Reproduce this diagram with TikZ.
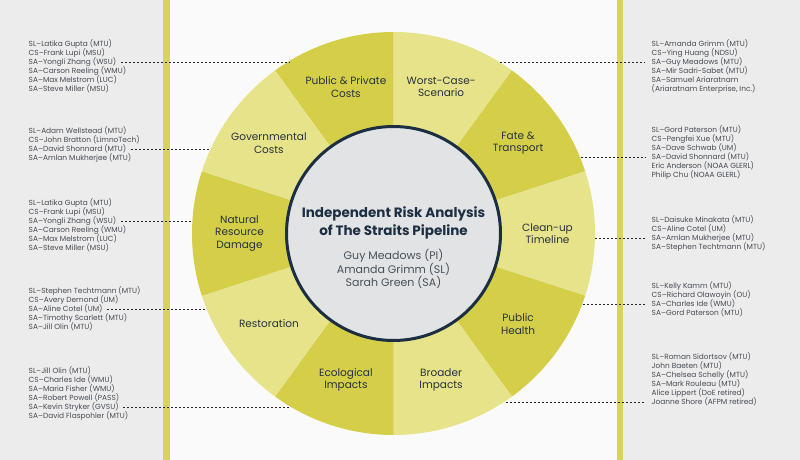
\documentclass[tikz,border=0pt]{standalone}
\usepackage{fontspec}
\setmainfont{Poppins}
\usetikzlibrary{positioning}
\definecolor{segdark}{HTML}{D4CE48}
\definecolor{seglight}{HTML}{E7E38A}
\definecolor{barcol}{HTML}{D8D35A}
\definecolor{panel}{HTML}{ECECEC}
\definecolor{hubfill}{HTML}{E2E3E5}
\definecolor{hubline}{HTML}{1C2F42}
\definecolor{ink}{HTML}{27323C}
\definecolor{listink}{HTML}{464B51}

\begin{document}
\begin{tikzpicture}[x=1pt,y=1pt, member/.style={anchor=west,inner sep=1.5pt,text=listink,font=\fontsize{7.4}{8.5}\selectfont}, topic/.style={align=center,text=ink,font=\fontsize{10.5}{12.5}\selectfont}, link/.style={draw=black!85,line width=0.9pt,dash pattern=on 2pt off 2pt}]
\useasboundingbox (0,0) rectangle (800,460);
% panels and bars
\fill[white!98!black] (0,0) rectangle (800,460);
\fill[panel] (0,0) rectangle (163,460);
\fill[panel] (623,0) rectangle (800,460);
\fill[barcol] (163,0) rectangle (170,460);
\fill[barcol] (617,0) rectangle (623,460);
% wheel
\node[circle,minimum size=403pt,inner sep=0pt] (wheel) at (393.5,226.5) {};
\foreach \a/\c in {90/segdark,54/seglight,18/segdark,-18/seglight,-54/segdark,-90/seglight,-126/segdark,-162/seglight,162/segdark,126/seglight}
  \fill[\c] (wheel.center) -- ++(\a:201.5) arc[start angle=\a,delta angle=36,radius=201.5] -- cycle;
\node[circle,minimum size=214pt,fill=hubfill,draw=hubline,line width=3pt] (hub) at (wheel.center) {};
\node[align=center,text=hubline,font=\bfseries\fontsize{13.5}{18}\selectfont] (title) at ([yshift=10.5pt]wheel.center) {Independent Risk Analysis\\of The Straits Pipeline};
\node[align=center,text=ink!85,font=\fontsize{11}{13}\selectfont] (team) at ([yshift=-35.5pt]wheel.center) {Guy Meadows (PI)\\Amanda Grimm (SL)\\Sarah Green (SA)};
% topics
\node[topic] (pubcost) at ([shift={(108:154)}]wheel.center) {Public \& Private\\Costs};
\node[topic] (worst) at ([shift={(72:154)}]wheel.center) {Worst-Case-\\Scenario};
\node[topic] (fate) at ([shift={(36:154)}]wheel.center) {Fate \&\\Transport};
\node[topic] (cleanup) at ([shift={(0:154)}]wheel.center) {Clean-up\\Timeline};
\node[topic] (health) at ([shift={(-36:154)}]wheel.center) {Public\\Health};
\node[topic] (broader) at ([shift={(-72:154)}]wheel.center) {Broader\\Impacts};
\node[topic] (ecol) at ([shift={(-108:154)}]wheel.center) {Ecological\\Impacts};
\node[topic] (restor) at ([shift={(-144:154)}]wheel.center) {Restoration};
\node[topic] (natres) at ([shift={(180:154)}]wheel.center) {Natural\\Resource\\Damage};
\node[topic] (govcost) at ([shift={(144:154)}]wheel.center) {Governmental\\Costs};
% teams, left
\foreach \t [count=\i] in {SL--Latika Gupta (MTU), CS--Frank Lupi (MSU), SA--Yongli Zhang (WSU), SA--Carson Reeling (WMU), SA--Max Melstrom (LUC), SA--Steve Miller (MSU)}
  \node[member] (pc\i) at (27,425-9*\i) {\t};
\foreach \t [count=\i] in {SL--Adam Wellstead (MTU), CS--John Bratton (LimnoTech), SA--David Shonnard (MTU), SA--Amlan Mukherjee (MTU)}
  \node[member] (gc\i) at (27,338-9*\i) {\t};
\foreach \t [count=\i] in {SL--Latika Gupta (MTU), CS--Frank Lupi (MSU), SA--Yongli Zhang (WSU), SA--Carson Reeling (WMU), SA--Max Melstrom (LUC), SA--Steve Miller (MSU)}
  \node[member] (nr\i) at (27,266-9*\i) {\t};
\foreach \t [count=\i] in {SL--Stephen Techtmann (MTU), CS--Avery Demond (UM), SA--Aline Cotel (UM), SA--Timothy Scarlett (MTU), SA--Jill Olin (MTU)}
  \node[member] (rs\i) at (27,178-9*\i) {\t};
\foreach \t [count=\i] in {SL--Jill Olin (MTU), CS--Charles Ide (WMU), SA--Maria Fisher (WMU), SA--Robert Powell (PASS), SA--Kevin Stryker (GVSU), SA--David Flaspohler (MTU)}
  \node[member] (ec\i) at (27,98-9*\i) {\t};
% teams, right
\foreach \t [count=\i] in {SL--Amanda Grimm (MTU), CS--Ying Huang (NDSU), SA--Guy Meadows (MTU), SA--Mir Sadri-Sabet (MTU), SA--Samuel Ariaratnam, {(Ariaratnam Enterprise, Inc.)}}
  \node[member] (wc\i) at (650,425-9*\i) {\t};
\foreach \t [count=\i] in {SL--Gord Paterson (MTU), CS--Pengfei Xue (MTU), SA--Dave Schwab (UM), SA--David Shonnard (MTU), Eric Anderson (NOAA GLERL), Philip Chu (NOAA GLERL)}
  \node[member] (ft\i) at (650,339-9*\i) {\t};
\foreach \t [count=\i] in {SL--Daisuke Minakata (MTU), CS--Aline Cotel (UM), SA--Amlan Mukherjee (MTU), SA--Stephen Techtmann (MTU)}
  \node[member] (cu\i) at (650,249-9*\i) {\t};
\foreach \t [count=\i] in {SL--Kelly Kamm (MTU), CS--Richard Olawoyin (OU), SA--Charles Ide (WMU), SA--Gord Paterson (MTU)}
  \node[member] (ph\i) at (650,183-9*\i) {\t};
\foreach \t [count=\i] in {SL--Roman Sidortsov (MTU), John Baeten (MTU), SA--Chelsea Schelly (MTU), SA--Mark Rouleau (MTU), Alice Lippert (DoE retired), Joanne Shore (AFPM retired)}
  \node[member] (bi\i) at (650,112-9*\i) {\t};
% leader lines
\draw[link,shorten <=3pt] (pc3.east) -- (pc3.east -| wheel.121.7);
\draw[link,shorten <=3pt] (gc3.east) -- (gc3.east -| wheel.155.5);
\draw[link,shorten <=3pt] (nr3.east) -- (nr3.east -| wheel.176.7);
\draw[link,shorten <=3pt] (rs3.east) -- (rs3.east -| wheel.202.3);
\draw[link,shorten <=3pt] (ec5.east) -- (ec5.east -| wheel.239.4);
\draw[link,shorten >=5pt] (wc3.west -| wheel.58.3) -- (wc3.west);
\draw[link,shorten >=5pt] (ft4.west -| wheel.22.0) -- (ft4.west);
\draw[link,shorten >=5pt] (cu3.west -| wheel.-1.0) -- (cu3.west);
\draw[link,shorten >=5pt] (ph3.west -| wheel.-20.8) -- (ph3.west);
\draw[link,shorten >=5pt] (bi6.west -| wheel.-56.7) -- (bi6.west);
\end{tikzpicture}
\end{document}
